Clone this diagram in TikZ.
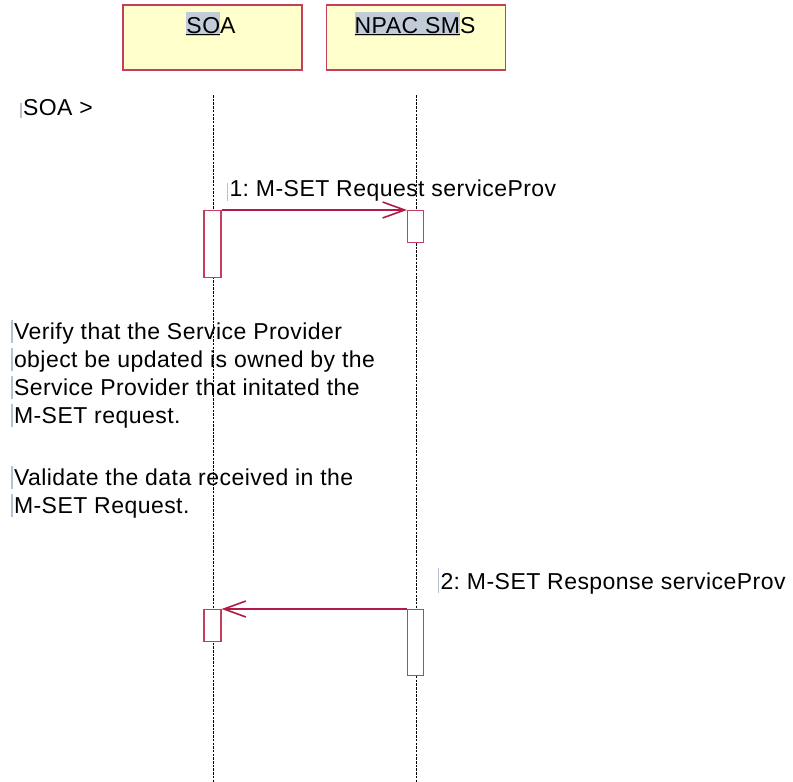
\documentclass[tikz,border=0pt]{standalone}
\usepackage{fontspec}
\setmainfont[LetterSpace=2]{Liberation Sans}
\usetikzlibrary{arrows.meta}
\definecolor{crim}{RGB}{176,28,72}
\definecolor{boxline}{RGB}{196,62,98}
\definecolor{actfill}{RGB}{255,255,204}
\definecolor{hlc}{RGB}{194,204,216}
\definecolor{curc}{RGB}{180,194,212}
\newcommand\curbar[2]{\textcolor{curc}{\rule[-#1pt]{1.6pt}{#2pt}}\hspace{1.2pt}}
\newcommand\hlt[1]{{\setlength\fboxsep{0pt}\colorbox{hlc}{\rule[-3pt]{0pt}{24pt}\underline{#1}}}}
\frenchspacing
\begin{document}
\begin{tikzpicture}[x=1pt,y=-1pt,
  actor/.style={draw=boxline, line width=1.4pt, fill=actfill, minimum width=179pt, minimum height=65pt, inner sep=0pt},
  act/.style={draw=boxline, line width=1.1pt, fill=white, minimum width=17pt, inner sep=0pt, anchor=north},
  lifeline/.style={line width=0.9pt, dash pattern=on 2.5pt off 1.2pt},
  msg/.style={draw=crim, line width=1.2pt, -{Straight Barb[length=22pt,width=16pt,line width=1.6pt]}},
  txt/.style={anchor=base west, inner sep=0pt, font=\fontsize{23pt}{28pt}\selectfont}]
\useasboundingbox[fill=white] (0,0) rectangle (793,782);
% actors
\node[actor] (soa) at (212.5,37.5) {};
\node[actor] (npac) at (416,37.5) {};
\node[txt, anchor=base] (soat) at (211,33) {\hlt{SO}A};
\node[txt, anchor=base] (npact) at (415,33) {\hlt{NPAC SM}S};
% lifelines
\coordinate (s1) at (213,95); \coordinate (s2) at (213,782);
\coordinate (n1) at (416,95); \coordinate (n2) at (416,782);
\draw[lifeline] (s1) -- (s2);
\draw[lifeline] (n1) -- (n2);
% activations
\node[act, minimum height=67pt] (a1) at (212.5,210) {};
\node[act, minimum height=32pt, minimum width=16pt] (a2) at (415.5,210) {};
\node[act, minimum height=32pt] (a3) at (212.5,609) {};
\node[act, minimum height=66pt, minimum width=16pt] (a4) at (415.5,609) {};
% messages
\draw[msg] (a1.north east) -- (a2.north west);
\draw[msg] (a4.north west) -- (a3.north east);
% texts
\node[txt] (lbl0) at (20,115) {\curbar{3}{15}SOA >};
\node[txt] (lbl1) at (226.5,196) {\curbar{5}{18}1: M-SET Request serviceProv};
\node[txt] (lbl2) at (437.5,589) {\curbar{4}{25}2: M-SET Response serviceProv};
\node[txt] (v1) at (11,339) {\curbar{4}{23}Verify that the Service Provider};
\node[txt] (v2) at (11,367) {\curbar{4}{23}object be updated is owned by the};
\node[txt] (v3) at (11,395) {\curbar{4}{23}Service Provider that initated the};
\node[txt] (v4) at (11,423) {\curbar{4}{23}M-SET request.};
\node[txt] (v5) at (11,485) {\curbar{4}{23}Validate the data received in the};
\node[txt] (v6) at (11,513) {\curbar{4}{23}M-SET Request.};
\end{tikzpicture}
\end{document}
